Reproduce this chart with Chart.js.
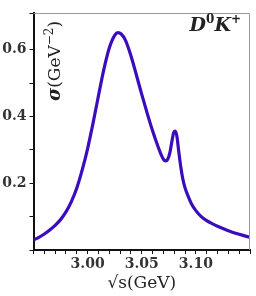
<!DOCTYPE html>
<html lang="en">
<head>
    <meta charset="UTF-8">
    <title>D0K+ cross section</title>
    <script src="https://cdn.jsdelivr.net/npm/chart.js"></script>
    <style>
        html, body { margin: 0; padding: 0; background: #fff; }
        #wrap { width: 256px; height: 296px; }
    </style>
</head>
<body>
    <div id="wrap"><canvas id="sigmaChart" width="256" height="296"></canvas></div>

    <script>
        // sqrt(s) in GeV
        const sqrtS = [2.950, 2.955, 2.960, 2.965, 2.970, 2.975, 2.980, 2.985, 2.990, 2.995,
                       3.000, 3.005, 3.010, 3.015, 3.020, 3.025, 3.028, 3.031, 3.035, 3.040,
                       3.045, 3.050, 3.055, 3.060, 3.065, 3.068, 3.070, 3.072, 3.074, 3.076,
                       3.078, 3.0795, 3.081, 3.0825, 3.084, 3.086, 3.088, 3.090, 3.093, 3.096,
                       3.100, 3.105, 3.110, 3.115, 3.120, 3.130, 3.140, 3.150];
        // sigma in GeV^-2
        const sigma = [0.030, 0.038, 0.048, 0.060, 0.074, 0.091, 0.114, 0.145, 0.186, 0.240,
                       0.304, 0.380, 0.462, 0.541, 0.605, 0.643, 0.651, 0.647, 0.628, 0.582,
                       0.525, 0.466, 0.410, 0.357, 0.310, 0.285, 0.272, 0.267, 0.272, 0.292,
                       0.328, 0.352, 0.356, 0.340, 0.300, 0.250, 0.212, 0.186, 0.160, 0.138,
                       0.118, 0.100, 0.088, 0.079, 0.071, 0.058, 0.047, 0.038];

        const xTickLabels = [3.00, 3.05, 3.10];
        const yTickLabels = [0.2, 0.4, 0.6];

        const serif = "'DejaVu Serif', serif";

        // draws runs of text with different fonts/offsets
        function drawRuns(ctx, runs) {
            let x = 0;
            runs.forEach(r => {
                ctx.font = r.font;
                ctx.fillText(r.text, x, -(r.rise || 0));
                x += ctx.measureText(r.text).width;
            });
        }
        function runsWidth(ctx, runs) {
            let w = 0;
            runs.forEach(r => { ctx.font = r.font; w += ctx.measureText(r.text).width; });
            return w;
        }

        const extras = {
            id: "extras",
            afterDraw(chart) {
                const ctx = chart.ctx;
                const a = chart.chartArea;
                ctx.save();
                // thin frame on top and right
                ctx.strokeStyle = "#999";
                ctx.lineWidth = 1;
                ctx.beginPath();
                ctx.moveTo(a.left, a.top + 0.5);
                ctx.lineTo(a.right - 0.5, a.top + 0.5);
                ctx.lineTo(a.right - 0.5, a.bottom);
                ctx.stroke();

                ctx.fillStyle = "#222";
                ctx.textBaseline = "alphabetic";

                // y title inside the plot
                const yRuns = [
                    { text: "σ", font: "bold italic 18px " + serif },
                    { text: "(GeV", font: "17px " + serif },
                    { text: "−2", font: "12px " + serif, rise: 7 },
                    { text: ")", font: "17px " + serif }
                ];
                ctx.save();
                ctx.translate(59.5, 61);
                ctx.rotate(-Math.PI / 2);
                ctx.translate(-runsWidth(ctx, yRuns) / 2, 0);
                drawRuns(ctx, yRuns);
                ctx.restore();

                // channel label
                const lRuns = [
                    { text: "D", font: "bold italic 19px " + serif },
                    { text: "0", font: "bold 12px " + serif, rise: 8 },
                    { text: "K", font: "bold italic 19px " + serif },
                    { text: "+", font: "bold 12px " + serif, rise: 8 }
                ];
                ctx.save();
                ctx.translate(a.right - 9 - runsWidth(ctx, lRuns), 31);
                drawRuns(ctx, lRuns);
                ctx.restore();

                ctx.restore();
            }
        };

        const ctx = document.getElementById("sigmaChart").getContext("2d");

        new Chart(ctx, {
            type: "line",
            data: {
                datasets: [{
                    data: sqrtS.map((x, i) => ({ x: x, y: sigma[i] })),
                    borderColor: "#3a0cbd",
                    borderWidth: 3.2,
                    pointRadius: 0,
                    fill: false,
                    cubicInterpolationMode: "monotone"
                }]
            },
            options: {
                responsive: false,
                animation: false,
                layout: { padding: { top: 13, right: 6, left: 0, bottom: 0 } },
                plugins: { legend: { display: false }, tooltip: { enabled: false } },
                scales: {
                    x: {
                        type: "linear",
                        min: 2.95,
                        max: 3.15,
                        afterFit: s => { s.height = 46; },
                        border: { color: "#111", width: 2 },
                        grid: { drawOnChartArea: false, tickLength: 4, tickColor: "#111" },
                        ticks: {
                            stepSize: 0.01,
                            autoSkip: false,
                            maxRotation: 0,
                            padding: 2,
                            color: "#333",
                            font: { family: serif, weight: "bold", size: 14 },
                            callback: v => xTickLabels.some(t => Math.abs(t - v) < 1e-6) ? v.toFixed(2) : ""
                        },
                        title: {
                            display: true,
                            text: "√s(GeV)",
                            color: "#222",
                            font: { family: serif, size: 17 },
                            padding: { top: 0, bottom: 2 }
                        }
                    },
                    y: {
                        min: 0,
                        max: 0.71,
                        afterFit: s => { s.width = 33.5; },
                        border: { color: "#111", width: 2 },
                        grid: { drawOnChartArea: false, tickLength: 4, tickColor: "#111" },
                        ticks: {
                            stepSize: 0.1,
                            autoSkip: false,
                            padding: 3,
                            color: "#333",
                            font: { family: serif, weight: "bold", size: 14 },
                            callback: v => yTickLabels.some(t => Math.abs(t - v) < 1e-6) ? v.toFixed(1) : ""
                        }
                    }
                }
            },
            plugins: [extras]
        });
    </script>
</body>
</html>
